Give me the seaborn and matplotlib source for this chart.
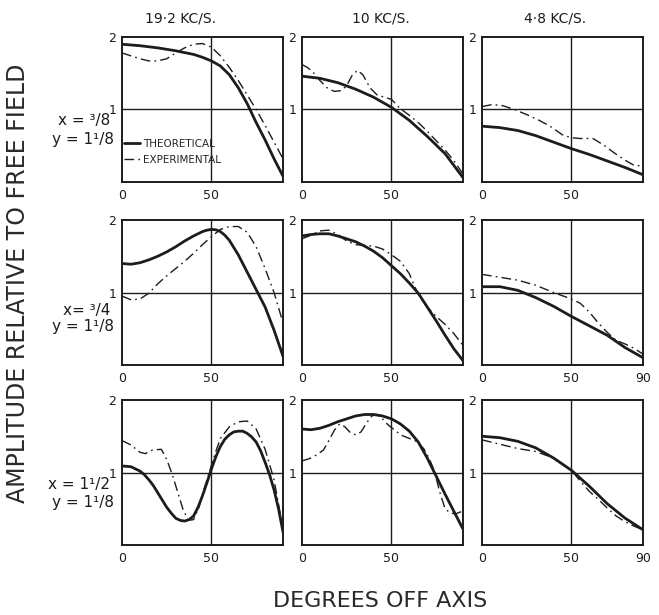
import matplotlib
matplotlib.use("Agg")
import matplotlib.pyplot as plt
import seaborn as sns

# ---- labels ----
col_titles = ["19·2 KC/S.", "10 KC/S.", "4·8 KC/S."]
row_x_labels = ["x = ³/8", "x= ³/4", "x = 1¹/2"]
row_y_label = "y = 1¹/8"
y_label = "AMPLITUDE RELATIVE TO FREE FIELD"
x_label = "DEGREES OFF AXIS"

# ---- row 1 : x = 3/8 ----
r1_192_theo_deg = [0, 10, 20, 30, 40, 45, 50, 55, 60, 65, 70, 75, 80, 85, 90]
r1_192_theo_amp = [1.90, 1.88, 1.85, 1.81, 1.76, 1.72, 1.67, 1.60, 1.48, 1.30, 1.08, 0.82, 0.58, 0.32, 0.08]
r1_192_exp_deg = [0, 5, 10, 15, 20, 25, 30, 35, 40, 45, 50, 55, 60, 65, 70, 75, 80, 85, 90]
r1_192_exp_amp = [1.78, 1.74, 1.70, 1.67, 1.67, 1.70, 1.78, 1.85, 1.90, 1.91, 1.86, 1.74, 1.58, 1.40, 1.20, 1.00, 0.78, 0.55, 0.32]

r1_10_theo_deg = [0, 10, 20, 30, 40, 50, 60, 70, 80, 90]
r1_10_theo_amp = [1.46, 1.43, 1.37, 1.28, 1.17, 1.03, 0.85, 0.63, 0.39, 0.06]
r1_10_exp_deg = [0, 3, 6, 10, 14, 18, 22, 25, 28, 31, 34, 38, 42, 46, 50, 55, 60, 65, 70, 75, 80, 85, 90]
r1_10_exp_amp = [1.62, 1.58, 1.52, 1.40, 1.30, 1.25, 1.26, 1.33, 1.47, 1.54, 1.48, 1.30, 1.20, 1.17, 1.14, 1.01, 0.92, 0.82, 0.70, 0.57, 0.44, 0.29, 0.11]

r1_48_theo_deg = [0, 10, 20, 30, 40, 50, 60, 70, 80, 90]
r1_48_theo_amp = [0.77, 0.75, 0.71, 0.64, 0.55, 0.46, 0.38, 0.29, 0.20, 0.10]
r1_48_exp_deg = [0, 6, 12, 18, 25, 32, 38, 45, 50, 55, 62, 68, 74, 80, 85, 90]
r1_48_exp_amp = [1.04, 1.07, 1.05, 1.00, 0.93, 0.85, 0.77, 0.65, 0.61, 0.60, 0.60, 0.51, 0.40, 0.30, 0.23, 0.22]

# ---- row 2 : x = 3/4 ----
r2_192_theo_deg = [0, 5, 10, 15, 20, 25, 30, 35, 40, 45, 47.5, 50, 52.5, 55, 57.5, 60, 65, 70, 75, 80, 85, 90]
r2_192_theo_amp = [1.40, 1.39, 1.41, 1.45, 1.50, 1.56, 1.63, 1.71, 1.78, 1.84, 1.86, 1.87, 1.865, 1.84, 1.79, 1.72, 1.52, 1.28, 1.04, 0.80, 0.48, 0.12]
r2_192_exp_deg = [0, 5, 10, 15, 20, 25, 30, 35, 40, 45, 50, 55, 60, 65, 70, 75, 80, 85, 90]
r2_192_exp_amp = [0.95, 0.90, 0.91, 0.99, 1.12, 1.23, 1.33, 1.43, 1.54, 1.66, 1.77, 1.87, 1.91, 1.91, 1.83, 1.63, 1.33, 1.00, 0.58]

r2_10_theo_deg = [0, 5, 10, 15, 20, 25, 30, 35, 40, 45, 50, 55, 60, 65, 70, 75, 80, 85, 90]
r2_10_theo_amp = [1.78, 1.80, 1.81, 1.81, 1.78, 1.74, 1.70, 1.64, 1.57, 1.48, 1.37, 1.26, 1.13, 0.99, 0.80, 0.61, 0.41, 0.22, 0.06]
r2_10_exp_deg = [0, 5, 10, 15, 20, 25, 30, 35, 40, 45, 50, 55, 60, 63, 66, 70, 75, 80, 85, 90]
r2_10_exp_amp = [1.74, 1.79, 1.85, 1.86, 1.80, 1.71, 1.66, 1.65, 1.64, 1.60, 1.52, 1.43, 1.26, 1.08, 0.93, 0.80, 0.67, 0.56, 0.43, 0.27]

r2_48_theo_deg = [0, 10, 20, 30, 40, 50, 60, 70, 80, 90]
r2_48_theo_amp = [1.08, 1.08, 1.03, 0.93, 0.81, 0.67, 0.54, 0.41, 0.24, 0.10]
r2_48_exp_deg = [0, 10, 20, 30, 40, 50, 55, 60, 65, 70, 75, 80, 85, 90]
r2_48_exp_amp = [1.25, 1.21, 1.17, 1.10, 1.00, 0.91, 0.85, 0.73, 0.58, 0.45, 0.34, 0.29, 0.23, 0.15]

# ---- row 3 : x = 1 1/2 ----
r3_192_theo_deg = [0, 5, 10, 12.5, 15, 17.5, 20, 22.5, 25, 27.5, 30, 32.5, 35, 37.5, 40, 42.5, 45, 47.5,
                   50, 52.5, 55, 57.5, 60, 62.5, 65, 67.5, 70, 72.5, 75, 77.5, 80, 82.5, 85, 87.5, 90]
r3_192_theo_amp = [1.09, 1.08, 1.02, 0.97, 0.90, 0.82, 0.72, 0.62, 0.52, 0.44, 0.37, 0.34, 0.33, 0.35, 0.40, 0.52, 0.68, 0.86,
                   1.05, 1.22, 1.36, 1.46, 1.52, 1.56, 1.57, 1.57, 1.54, 1.49, 1.42, 1.30, 1.14, 0.97, 0.76, 0.50, 0.18]
r3_192_exp_deg = [0, 5, 10, 13, 17, 22, 25, 28, 31, 34, 37, 40, 43, 46, 49, 52, 55, 60, 65, 70, 75, 80, 85, 90]
r3_192_exp_amp = [1.44, 1.38, 1.28, 1.26, 1.31, 1.32, 1.18, 0.98, 0.74, 0.50, 0.34, 0.35, 0.52, 0.78, 1.02, 1.26, 1.47, 1.63, 1.70, 1.71, 1.60, 1.32, 0.90, 0.22]

r3_10_theo_deg = [0, 5, 10, 15, 20, 25, 30, 35, 40, 45, 50, 55, 60, 65, 70, 75, 80, 85, 90]
r3_10_theo_amp = [1.60, 1.59, 1.61, 1.65, 1.70, 1.74, 1.78, 1.80, 1.80, 1.78, 1.74, 1.67, 1.57, 1.42, 1.20, 0.95, 0.70, 0.46, 0.22]
r3_10_exp_deg = [0, 4, 8, 12, 15, 18, 21, 24, 27, 30, 33, 36, 39, 42, 45, 48, 52, 56, 60, 64, 68, 71, 74, 77, 80, 83, 86, 90]
r3_10_exp_amp = [1.16, 1.19, 1.24, 1.31, 1.44, 1.58, 1.67, 1.63, 1.55, 1.52, 1.56, 1.68, 1.78, 1.80, 1.74, 1.66, 1.58, 1.51, 1.47, 1.43, 1.33, 1.20, 1.02, 0.73, 0.50, 0.44, 0.43, 0.47]

r3_48_theo_deg = [0, 10, 20, 30, 40, 50, 60, 70, 80, 90]
r3_48_theo_amp = [1.50, 1.48, 1.43, 1.34, 1.20, 1.03, 0.81, 0.57, 0.37, 0.21]
r3_48_exp_deg = [0, 10, 20, 30, 40, 50, 55, 60, 65, 70, 75, 80, 85, 90]
r3_48_exp_amp = [1.45, 1.39, 1.33, 1.29, 1.20, 1.03, 0.88, 0.74, 0.63, 0.51, 0.40, 0.32, 0.26, 0.21]

panels = [
    [(r1_192_theo_deg, r1_192_theo_amp, r1_192_exp_deg, r1_192_exp_amp),
     (r1_10_theo_deg, r1_10_theo_amp, r1_10_exp_deg, r1_10_exp_amp),
     (r1_48_theo_deg, r1_48_theo_amp, r1_48_exp_deg, r1_48_exp_amp)],
    [(r2_192_theo_deg, r2_192_theo_amp, r2_192_exp_deg, r2_192_exp_amp),
     (r2_10_theo_deg, r2_10_theo_amp, r2_10_exp_deg, r2_10_exp_amp),
     (r2_48_theo_deg, r2_48_theo_amp, r2_48_exp_deg, r2_48_exp_amp)],
    [(r3_192_theo_deg, r3_192_theo_amp, r3_192_exp_deg, r3_192_exp_amp),
     (r3_10_theo_deg, r3_10_theo_amp, r3_10_exp_deg, r3_10_exp_amp),
     (r3_48_theo_deg, r3_48_theo_amp, r3_48_exp_deg, r3_48_exp_amp)],
]

sns.set_style("white")
plt.rcParams["font.family"] = ["DejaVu Sans"]

ink = "#1c1c1c"
W, H = 659, 615
fig = plt.figure(figsize=(W / 100, H / 100), dpi=100)
fig.patch.set_facecolor("white")

col_left = [122, 302, 482]
row_top = [37, 220, 400]
pw, ph = 161, 145
dashdot = (0, (7, 3, 1.2, 3))

for r in range(3):
    for c in range(3):
        td, ta, ed, ea = panels[r][c]
        ax = fig.add_axes([col_left[c] / W, 1 - (row_top[r] + ph) / H, pw / W, ph / H])
        ax.set_facecolor("white")
        ax.axvline(50, color=ink, lw=1.0, zorder=1)
        ax.axhline(1, color=ink, lw=1.0, zorder=1)
        sns.lineplot(x=td, y=ta, ax=ax, color=ink, lw=2.0, sort=False,
                     label="THEORETICAL", legend=False, zorder=3)
        sns.lineplot(x=ed, y=ea, ax=ax, color=ink, lw=1.0, sort=False,
                     label="EXPERIMENTAL", legend=False, zorder=2,
                     linestyle=dashdot)
        ax.set_xlim(0, 90)
        ax.set_ylim(0, 2)
        if c == 2 and r > 0:
            ax.set_xticks([0, 50, 90])
            ax.set_xticklabels(["0", "50", "90"])
        else:
            ax.set_xticks([0, 50])
            ax.set_xticklabels(["0", "50"])
        ax.set_yticks([1, 2])
        ax.set_yticklabels(["1", "2"])
        ax.tick_params(length=0, labelsize=9, colors=ink, pad=5)
        ax.tick_params(axis="y", pad=4)
        ax.set_xlabel("")
        ax.set_ylabel("")
        for s in ax.spines.values():
            s.set_visible(True)
            s.set_color(ink)
            s.set_linewidth(1.4)
        if r == 0 and c == 0:
            ax.legend(loc="lower left", bbox_to_anchor=(0.01, 0.12), frameon=False,
                      fontsize=7.5, handlelength=1.6, handletextpad=0.3,
                      labelspacing=0.55, borderaxespad=0, borderpad=0)

# column titles
title_x = [181, 381, 555]
for t, xp in zip(col_titles, title_x):
    fig.text(xp / W, 1 - 18 / H, t, ha="center", va="center", fontsize=10, color=ink)

# row labels
row_x_y = [121, 310, 484]
row_y_y = [139, 327, 503]
for lab, yx, yy in zip(row_x_labels, row_x_y, row_y_y):
    fig.text(110 / W, 1 - yx / H, lab, ha="right", va="center", fontsize=11, color=ink)
    fig.text(114 / W, 1 - yy / H, row_y_label, ha="right", va="center", fontsize=11, color=ink)

fig.text(18 / W, 1 - 283 / H, y_label, rotation=90, ha="center", va="center",
         fontsize=17, color="#2a2a2a")
fig.text(380 / W, 1 - 601 / H, x_label, ha="center", va="center",
         fontsize=16, color="#2a2a2a")

fig.savefig("out.png", dpi=100, facecolor="white")
